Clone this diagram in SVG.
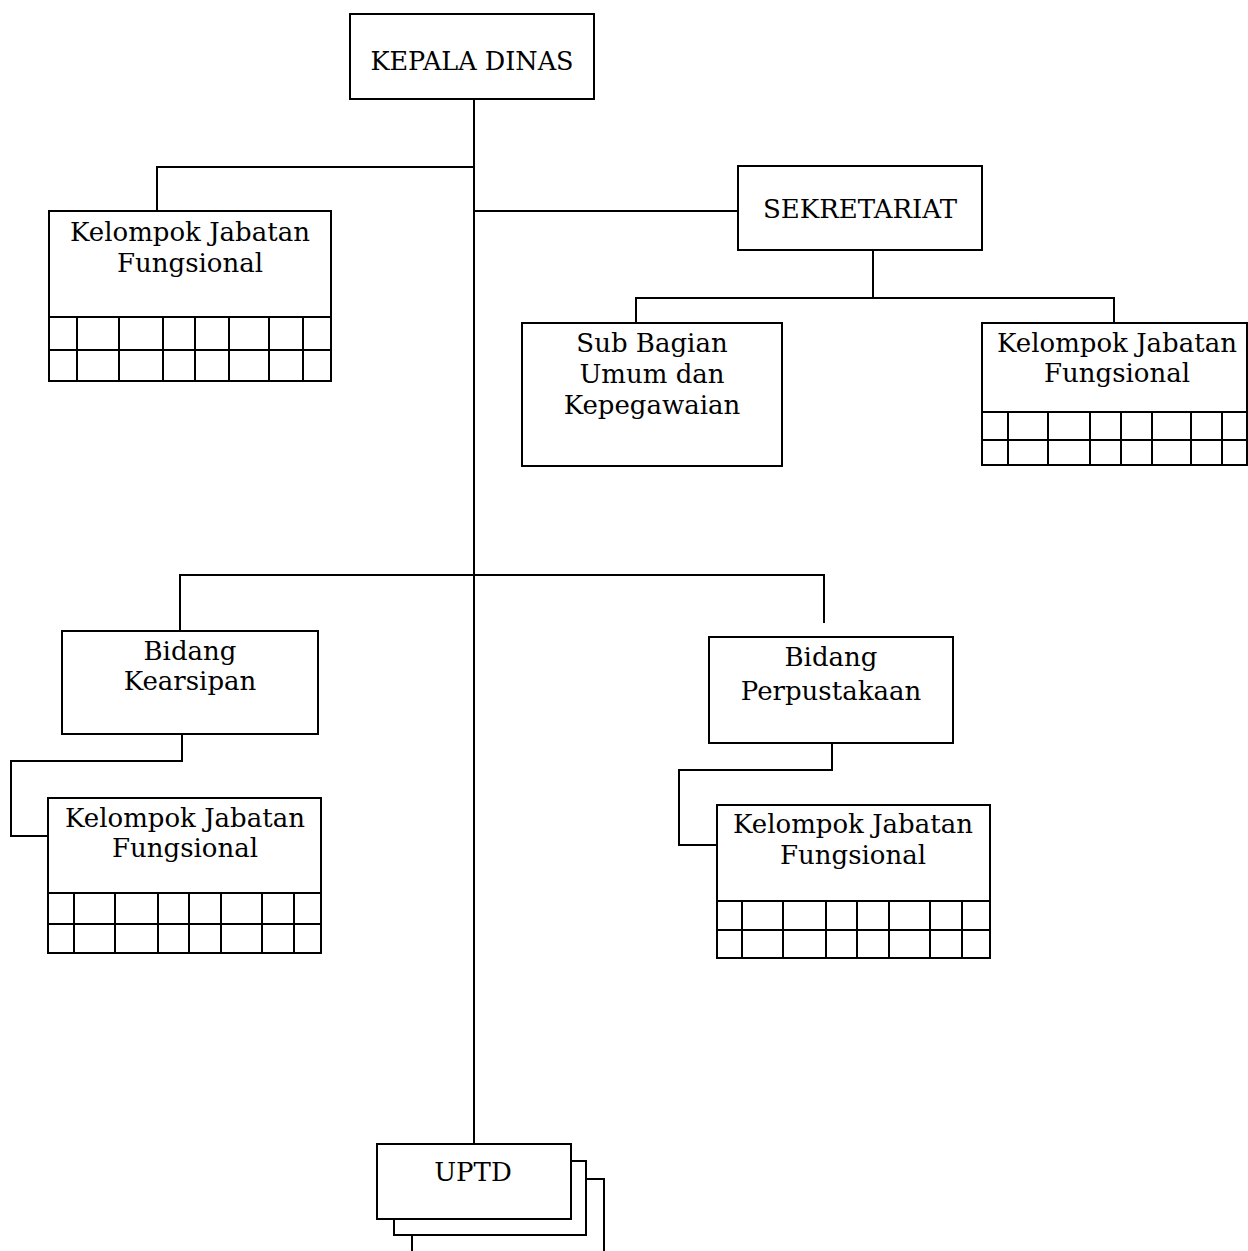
<svg xmlns="http://www.w3.org/2000/svg" width="1248" height="1251" viewBox="0 0 1248 1251">
<style>
.b{fill:#fff;stroke:#000;stroke-width:2}
.l{fill:none;stroke:#000;stroke-width:2}
.t{font-family:"DejaVu Serif","Liberation Serif",serif;font-size:26px;fill:#000;text-anchor:middle}
</style>
<rect width="1248" height="1251" fill="#fff"/>
<g id="connectors" class="l">
<path d="M474 99V1144"/>
<path d="M157 211V167H474"/>
<path d="M474 211H738"/>
<path d="M873 250V298"/>
<path d="M636 323V298H1114V323"/>
<path d="M180 631V575H824V623"/>
<path d="M182 734V761H11V836H48"/>
<path d="M832 743V770H679V845H717"/>
</g>
<g id="kepala"><rect class="b" x="350" y="14" width="244" height="85"/><text class="t" x="472" y="70" style="font-size:25.5px">KEPALA DINAS</text></g>
<g id="sekretariat"><rect class="b" x="738" y="166" width="244" height="84"/><text class="t" x="860" y="218">SEKRETARIAT</text></g>
<g id="kjf1"><rect class="b" x="49" y="211" width="282" height="170"/>
<path class="l" d="M49 317H331M49 350H331M77 317V381M119 317V381M163 317V381M195 317V381M229 317V381M269 317V381M303 317V381"/>
<text class="t" x="190" y="241">Kelompok Jabatan</text><text class="t" x="190" y="272">Fungsional</text></g>
<g id="subbag"><rect class="b" x="522" y="323" width="260" height="143"/>
<text class="t" x="652" y="352">Sub Bagian</text><text class="t" x="652" y="383">Umum dan</text><text class="t" x="652" y="414">Kepegawaian</text></g>
<g id="kjf2"><rect class="b" x="982" y="323" width="265" height="142"/>
<path class="l" d="M982 412H1247M982 440H1247M1008 412V465M1048 412V465M1090 412V465M1121 412V465M1152 412V465M1191 412V465M1222 412V465"/>
<text class="t" x="1117" y="352">Kelompok Jabatan</text><text class="t" x="1117" y="382">Fungsional</text></g>
<g id="kearsipan"><rect class="b" x="62" y="631" width="256" height="103"/>
<text class="t" x="190" y="660">Bidang</text><text class="t" x="190" y="690">Kearsipan</text></g>
<g id="kjf3"><rect class="b" x="48" y="798" width="273" height="155"/>
<path class="l" d="M48 893H321M48 924H321M74 893V953M115 893V953M158 893V953M189 893V953M221 893V953M262 893V953M294 893V953"/>
<text class="t" x="185" y="827">Kelompok Jabatan</text><text class="t" x="185" y="857">Fungsional</text></g>
<g id="perpustakaan"><rect class="b" x="709" y="637" width="244" height="106"/>
<text class="t" x="831" y="666">Bidang</text><text class="t" x="831" y="700">Perpustakaan</text></g>
<g id="kjf4"><rect class="b" x="717" y="805" width="273" height="153"/>
<path class="l" d="M717 901H990M717 930H990M742 901V958M783 901V958M826 901V958M857 901V958M889 901V958M930 901V958M962 901V958"/>
<text class="t" x="853" y="833">Kelompok Jabatan</text><text class="t" x="853" y="864">Fungsional</text></g>
<g id="uptd">
<rect class="b" x="412" y="1179" width="192" height="90"/>
<rect class="b" x="394" y="1161" width="192" height="74"/>
<rect class="b" x="377" y="1144" width="194" height="75"/>
<text class="t" x="473" y="1181">UPTD</text></g>
</svg>
